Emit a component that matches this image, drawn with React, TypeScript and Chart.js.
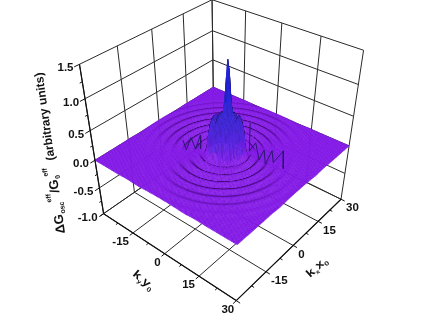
import React, { useEffect, useRef } from "react";
import { Chart, registerables } from "chart.js";

Chart.register(...registerables);

// ---- data ----
const kTicks = [-30, -15, 0, 15, 30];
const kMinorTicks = [-22.5, -7.5, 7.5, 22.5];
const zTicks = [-1.0, -0.5, 0.0, 0.5, 1.0, 1.5];
const zMinorTicks = [-0.75, -0.25, 0.25, 0.75, 1.25];
const leftEdgeLabels = ["-15", "0", "15"];
const leftEdgeLabelValues = [-15, 0, 15];
const rightEdgeLabels = ["-15", "0", "15", "30"];
const rightEdgeLabelValues = [-15, 0, 15, 30];
const frontLabel = "30";

// radial height profile of the surface
const profileR = [0, 0.4, 0.8, 1.2, 1.6, 2, 3, 4, 5.2, 5.9, 6.4, 7.0, 7.6, 9, 10.8, 12.6, 14.3, 16, 17.8, 19.5, 21.2, 23, 24.8, 26.5, 28.2, 30, 31.5, 33, 35, 43];
const profileZ = [1.5, 1.38, 1.05, 0.8, 0.68, 0.62, 0.58, 0.56, 0.52, 0.32, 0.08, -0.02, -0.05, 0.05, -0.04, 0.04, -0.032, 0.032, -0.025, 0.025, -0.02, 0.02, -0.015, 0.015, -0.01, 0.01, -0.006, 0.006, 0, 0];
const plateauTexture = [0.015, -0.02, 0.025, -0.01, 0.0, 0.02, -0.025, 0.01, -0.015];
const centerK = [1.2, 1.2];

// dark zigzag ridges beside the central plateau: kx, ky, height
const ridgeLeftKx = [-7.9, -6.55, -6.1, -4.2, -4.1, -3.1];
const ridgeLeftKy = [-10.7, -10.65, -8.7, -8.6, -6.3, -7.3];
const ridgeLeftZ = [0.2, 0, 0.24, 0, 0.28, 0];
const ridgeRightKx = [6.35, 6.35, 3.8, 4.6, 3.7, 4.0, 6.1, 6.4, 5.65, 5.8];
const ridgeRightKy = [6.05, 6.05, 10.4, 11.4, 13.9, 14.4, 15.3, 15.8, 19.95, 20.2];
const ridgeRightZ = [0.48, 0, 0.29, 0, 0.24, 0, 0.2, 0, 0.3, 0];

// ---- camera, fitted to the box corners seen in the picture ----
const cameraAnchors: number[][] = [
  [-30, -30, -1, 105, 213], [-30, -30, 0, 96.5, 161], [-30, -30, 1.5, 80, 63],
  [-30, 30, -1, 235, 302], [-30, 30, 0, 237, 244],
  [30, 30, -1, 341, 199], [30, 30, 0, 348, 145], [30, 30, 1.5, 364, 51],
  [30, -30, 0, 214, 87], [30, -30, 0.5, 214, 60], [30, -30, 1.5, 213, 0],
  [0, -30, 1.5, 154, 29], [0, -30, 0.5, 148, 93],
  [30, 0, 1.5, 282, 23], [30, 0, 0.5, 278, 86],
  [-30, 0, -1, 165, 254], [0, 30, -1, 295, 245],
];

function fitCamera(): number[] {
  const n = 11;
  const A = Array.from({ length: n }, () => new Array(n + 1).fill(0));
  const add = (row: number[], rhs: number) => {
    for (let a = 0; a < n; a++) {
      for (let b = 0; b < n; b++) A[a][b] += row[a] * row[b];
      A[a][n] += row[a] * rhs;
    }
  };
  for (const [kx, ky, z, u, v] of cameraAnchors) {
    const X = kx / 30, Y = ky / 30, Z = z / 1.5;
    const U = u / 100, V = v / 100;
    add([X, Y, Z, 1, 0, 0, 0, 0, -U * X, -U * Y, -U * Z], U);
    add([0, 0, 0, 0, X, Y, Z, 1, -V * X, -V * Y, -V * Z], V);
  }
  for (let c = 0; c < n; c++) {
    let p = c;
    for (let r = c + 1; r < n; r++) if (Math.abs(A[r][c]) > Math.abs(A[p][c])) p = r;
    [A[c], A[p]] = [A[p], A[c]];
    for (let r = 0; r < n; r++) {
      if (r === c) continue;
      const f = A[r][c] / A[c][c];
      for (let k = c; k <= n; k++) A[r][k] -= f * A[c][k];
    }
  }
  return A.map((row, i) => row[n] / row[i]);
}
const cam = fitCamera();
function project(kx: number, ky: number, z: number) {
  const X = kx / 30, Y = ky / 30, Z = z / 1.5;
  const w = cam[8] * X + cam[9] * Y + cam[10] * Z + 1;
  return {
    x: (100 * (cam[0] * X + cam[1] * Y + cam[2] * Z + cam[3])) / w,
    y: (100 * (cam[4] * X + cam[5] * Y + cam[6] * Z + cam[7])) / w,
  };
}

function heightAt(kx: number, ky: number, i: number, j: number) {
  const c = Math.max(0, 1 - Math.hypot(kx, ky) / 14);
  const r = Math.hypot(kx - centerK[0] * c, ky - centerK[1] * c);
  let s = 0;
  while (s < profileR.length - 2 && profileR[s + 1] < r) s++;
  const t = Math.min(1, (r - profileR[s]) / (profileR[s + 1] - profileR[s]));
  let z = profileZ[s] + (profileZ[s + 1] - profileZ[s]) * t;
  if (r > 1.6 && r < 5.9) z += plateauTexture[(i * 2 + j * 5) % plateauTexture.length];
  return z;
}

const MESH = 121;
const meshPoints: { x: number; y: number; z: number }[] = [];
for (let i = 0; i < MESH; i++) {
  // kx runs from the back (30) to the front (-30)
  const kx = 30 - i * 0.5;
  for (let j = 0; j < MESH; j++) {
    const ky = -30 + j * 0.5;
    const z = heightAt(kx, ky, i, j);
    meshPoints.push({ ...project(kx, ky, z), z });
  }
}

const shadeStops = [
  [0.04, 138, 28, 240],
  [0.25, 95, 38, 232],
  [0.6, 70, 45, 225],
  [1.0, 36, 36, 228],
];
function baseColor(z: number) {
  if (z <= shadeStops[0][0]) return shadeStops[0].slice(1);
  for (let s = 1; s < shadeStops.length; s++) {
    if (z <= shadeStops[s][0]) {
      const t = (z - shadeStops[s - 1][0]) / (shadeStops[s][0] - shadeStops[s - 1][0]);
      return [1, 2, 3].map((c) => shadeStops[s - 1][c] + (shadeStops[s][c] - shadeStops[s - 1][c]) * t);
    }
  }
  return shadeStops[shadeStops.length - 1].slice(1);
}
const moire = [1, 0.93, 1, 0.88, 0.97];

const surfacePlugin = {
  id: "surfacePlugin",
  afterDatasetDraw(chart: any, args: any) {
    const ds = chart.data.datasets[args.index];
    if (ds.label !== "surface") return;
    const pts = args.meta.data;
    const ctx = chart.ctx;
    ctx.save();
    ctx.lineWidth = 0.6;
    const quadArea = (a: any, b: any, c: any, d: any) =>
      0.5 * ((a.x - c.x) * (b.y - d.y) - (b.x - d.x) * (a.y - c.y));
    for (let i = 0; i < MESH - 1; i++) {
      for (let j = 0; j < MESH - 1; j++) {
        const a = pts[i * MESH + j], b = pts[i * MESH + j + 1];
        const c = pts[(i + 1) * MESH + j + 1], d = pts[(i + 1) * MESH + j];
        const zv = (ds.data[i * MESH + j].z + ds.data[(i + 1) * MESH + j + 1].z) / 2;
        const kx = 30 - (i + 0.5) * 0.5, ky = -30 + (j + 0.5) * 0.5;
        const h = 0.25;
        const f0 = project(kx + h, ky - h, 0), f1 = project(kx + h, ky + h, 0);
        const f2 = project(kx - h, ky + h, 0), f3 = project(kx - h, ky - h, 0);
        const ratio = quadArea(a, b, c, d) / quadArea(f0, f1, f2, f3);
        const dark = Math.max(0, Math.min(0.8, (0.72 - ratio) / 0.9));
        const light = zv < 0.1 ? Math.max(0, Math.min(0.1, (ratio - 1.1) * 0.12)) : 0;
        const m = moire[(i + j * 2) % moire.length] * (1 - dark);
        const col = baseColor(zv).map((v: number) => Math.round(v * m + (255 - v) * light * 0.4));
        const css = `rgb(${col[0]},${col[1]},${col[2]})`;
        ctx.fillStyle = css;
        ctx.strokeStyle = css;
        ctx.beginPath();
        ctx.moveTo(a.x, a.y);
        ctx.lineTo(b.x, b.y);
        ctx.lineTo(c.x, c.y);
        ctx.lineTo(d.x, d.y);
        ctx.closePath();
        ctx.fill();
        ctx.stroke();
      }
    }
    ctx.restore();
  },
};

const FONT = '"Liberation Sans", Arial, sans-serif';
type Piece = { t: string; size: number; dy?: number };

function drawRich(ctx: any, pieces: Piece[], x: number, y: number, angle: number, squash = 1) {
  ctx.save();
  ctx.translate(x, y);
  ctx.rotate(angle);
  ctx.scale(1, squash);
  ctx.fillStyle = "#111";
  ctx.textAlign = "left";
  ctx.textBaseline = "alphabetic";
  let px = 0;
  for (const p of pieces) {
    ctx.font = `bold ${p.size}px ${FONT}`;
    ctx.fillText(p.t, px, p.dy || 0);
    px += ctx.measureText(p.t).width;
  }
  ctx.restore();
}

const labelPlugin = {
  id: "labelPlugin",
  afterDraw(chart: any) {
    const ctx = chart.ctx;
    const sx = chart.scales.x, sy = chart.scales.y;
    const at = (kx: number, ky: number, z: number) => {
      const p = project(kx, ky, z);
      return { x: sx.getPixelForValue(p.x), y: sy.getPixelForValue(p.y) };
    };
    ctx.save();
    ctx.fillStyle = "#111";
    ctx.font = `bold 11.5px ${FONT}`;
    ctx.textBaseline = "middle";
    ctx.textAlign = "right";
    zTicks.forEach((z) => {
      const p = at(-30, -30, z);
      ctx.fillText(z.toFixed(1), p.x - 6, p.y + 4);
    });
    leftEdgeLabelValues.forEach((v, i) => {
      const p = at(-30, v, -1);
      ctx.fillText(leftEdgeLabels[i], p.x - 4, p.y + 9);
    });
    const f = at(-30, 30, -1);
    ctx.fillText(frontLabel, f.x - 2, f.y + 9);
    ctx.textAlign = "left";
    rightEdgeLabelValues.forEach((v, i) => {
      const p = at(v, 30, -1);
      ctx.fillText(rightEdgeLabels[i], p.x + 5, p.y + 9);
    });
    ctx.restore();

    // axis titles
    drawRich(
      ctx,
      [
        { t: "\u0394G", size: 13 },
        { t: "osc", size: 7, dy: 3 },
        { t: " ", size: 3 },
        { t: "eff", size: 7, dy: -9 },
        { t: "/G", size: 13 },
        { t: "0", size: 7, dy: 3 },
        { t: "eff", size: 7, dy: -9 },
        { t: "  (arbitrary units)", size: 12 },
      ],
      65, 233, (-98 * Math.PI) / 180
    );
    drawRich(ctx, [{ t: "k", size: 14 }, { t: "y", size: 7, dy: 3 }, { t: " ", size: 2 }, { t: "y", size: 14 }, { t: "0", size: 8, dy: 3 }], 132, 275, (40 * Math.PI) / 180, 0.8);
    drawRich(ctx, [{ t: "k", size: 14 }, { t: "x", size: 7, dy: 3 }, { t: " ", size: 2 }, { t: "x", size: 14 }, { t: "0", size: 8, dy: 3 }], 310, 278, (-42 * Math.PI) / 180, 0.8);
  },
};

function lineDs(points: { x: number; y: number }[], order: number, color = "#2a2a2a", width = 1) {
  return {
    type: "line",
    data: points,
    order,
    borderColor: color,
    borderWidth: width,
    pointRadius: 0,
    fill: false,
    tension: 0,
    showLine: true,
    clip: false,
  };
}

function buildDatasets() {
  const out: any[] = [];
  const seg = (a: number[], b: number[], order: number, color?: string, width?: number) =>
    out.push(lineDs([project(a[0], a[1], a[2]), project(b[0], b[1], b[2])], order, color, width));
  // floor grid
  kTicks.forEach((k) => {
    seg([k, -30, -1], [k, 30, -1], 3);
    seg([-30, k, -1], [30, k, -1], 3);
  });
  // back walls
  kTicks.forEach((k) => {
    seg([k, -30, -1], [k, -30, 1.5], 3);
    seg([30, k, -1], [30, k, 1.5], 3);
  });
  zTicks.forEach((z) => {
    seg([-30, -30, z], [30, -30, z], 3);
    seg([30, -30, z], [30, 30, z], 3);
  });
  // surface mesh, drawn by surfacePlugin from the scaled points
  out.push({
    type: "scatter",
    label: "surface",
    data: meshPoints,
    order: 2,
    pointRadius: 0,
    showLine: false,
    clip: false,
  });
  // ridges
  out.push(lineDs(ridgeLeftKx.map((k, i) => project(k, ridgeLeftKy[i], ridgeLeftZ[i])), 1, "#2a1670", 1));
  out.push(lineDs(ridgeRightKx.map((k, i) => project(k, ridgeRightKy[i], ridgeRightZ[i])), 1, "#2a1670", 1));
  // front axes and ticks
  seg([-30, -30, -1], [-30, 30, -1], 0, "#111", 1.2);
  seg([-30, 30, -1], [30, 30, -1], 0, "#111", 1.2);
  seg([-30, -30, -1], [-30, -30, 1.5], 0, "#111", 1.2);
  kTicks.forEach((k) => {
    seg([-30, k, -1], [-31.5, k, -1], 0, "#111");
    seg([k, 30, -1], [k, 31.5, -1], 0, "#111");
  });
  kMinorTicks.forEach((k) => {
    seg([-30, k, -1], [-31, k, -1], 0, "#111");
    seg([k, 30, -1], [k, 31, -1], 0, "#111");
  });
  zTicks.forEach((z) => seg([-30, -30, z], [-32, -30, z], 0, "#111"));
  zMinorTicks.forEach((z) => seg([-30, -30, z], [-31, -30, z], 0, "#111"));
  return out;
}

export default function App() {
  const ref = useRef<HTMLCanvasElement>(null);
  useEffect(() => {
    document.body.style.margin = "0";
    const chart = new Chart(ref.current as HTMLCanvasElement, {
      type: "scatter",
      data: { datasets: buildDatasets() },
      options: {
        animation: false,
        responsive: false,
        events: [],
        layout: { padding: 0 },
        plugins: { legend: { display: false }, tooltip: { enabled: false } },
        scales: {
          x: { type: "linear", display: false, min: 0, max: 436 },
          y: { type: "linear", display: false, min: 0, max: 334, reverse: true },
        },
      },
      plugins: [surfacePlugin, labelPlugin],
    } as any);
    return () => chart.destroy();
  }, []);
  return <canvas ref={ref} width={436} height={334} style={{ display: "block", background: "#fff" }} />;
}
